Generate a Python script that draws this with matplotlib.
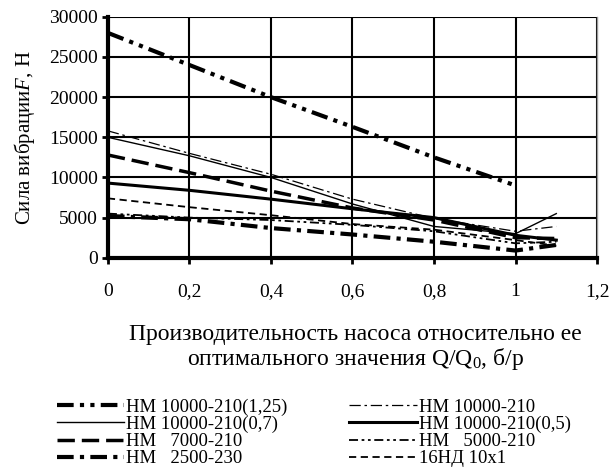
import matplotlib
matplotlib.use("Agg")
import matplotlib.pyplot as plt

plt.rcParams['font.family'] = ['Liberation Serif', 'DejaVu Serif']
plt.rcParams['mathtext.fontset'] = 'custom'
plt.rcParams['mathtext.rm'] = 'Liberation Serif'
plt.rcParams['mathtext.it'] = 'Liberation Serif:italic'

# relative flow Q/Q0
x_full = [0, 0.2, 0.4, 0.6, 0.8, 1.0, 1.1]
x_short = [0, 0.2, 0.4, 0.6, 0.8, 1.0]

# vibration force, N
f_10000_125 = [28000, 24000, 20000, 16300, 12500, 9000]
f_10000_07 = [15000, 12700, 10000, 6700, 3900, 3000, 5500]
f_7000 = [12800, 10600, 8300, 6200, 4700, 2500, 2400]
f_2500 = [5200, 4800, 3700, 2900, 2000, 900, 1600]
f_10000 = [15800, 13000, 10400, 7300, 4900, 3300, 3900]
f_10000_05 = [9300, 8400, 7300, 6100, 5000, 2800, 2200]
f_5000 = [5500, 5000, 4700, 4100, 3300, 1800, 2000]
f_16nd = [7400, 6300, 5300, 4200, 3500, 2200, 1500]

labels = ['НМ 10000-210(1,25)', 'НМ 10000-210(0,7)', 'НМ   7000-210', 'НМ   2500-230',
          'НМ 10000-210', 'НМ 10000-210(0,5)', 'НМ   5000-210', '16НД 10х1']

xticks = [0, 0.2, 0.4, 0.6, 0.8, 1.0, 1.2]
xtick_labels = ['0', '0,2', '0,4', '0,6', '0,8', '1', '1,2']
yticks = [0, 5000, 10000, 15000, 20000, 25000, 30000]

fig = plt.figure(figsize=(6.13, 4.67), dpi=100)
ax = fig.add_axes([0.176, 0.448, 0.798, 0.516])

ax.plot(x_short, f_10000_125, color='k', lw=3, ls=(0, (4, 1.5, 1, 1.5, 1, 1.5)), label=labels[0])
ax.plot(x_full, f_10000_07, color='k', lw=1.0, ls='-', label=labels[1])
ax.plot(x_full, f_7000, color='k', lw=2.5, ls=(0, (5, 2)), label=labels[2])
ax.plot(x_full, f_2500, color='k', lw=3, ls=(0, (4, 1.5, 1, 1.5)), label=labels[3])
ax.plot(x_full, f_10000, color='k', lw=0.9, ls=(0, (9, 3, 2, 3)), label=labels[4])
ax.plot(x_full, f_10000_05, color='k', lw=2.2, ls='-', label=labels[5])
ax.plot(x_full, f_5000, color='k', lw=1.3, ls=(0, (5, 2, 1.5, 2, 1.5, 2)), label=labels[6])
ax.plot(x_full, f_16nd, color='k', lw=1.3, ls=(0, (4, 2.5)), label=labels[7])

ax.set_xlim(0, 1.2)
ax.set_ylim(0, 30000)
ax.set_xticks(xticks)
ax.set_xticklabels(xtick_labels)
ax.set_yticks(yticks)
ax.tick_params(labelsize=14, direction='out', length=4, width=2, pad=14)
ax.tick_params(axis='y', pad=3)
ax.grid(True, color='k', lw=1.5)
ax.set_axisbelow(True)
ax.spines['left'].set_linewidth(3)
ax.spines['bottom'].set_linewidth(3)
ax.spines['top'].set_visible(False)
ax.spines['right'].set_color('0.6')
ax.spines['right'].set_linewidth(1)

ax.set_ylabel('Сила вибрации$\\it{F}$, Н', fontsize=15, labelpad=9)
fig.text(0.58, 0.255, 'Производительность насоса относительно ее\nоптимального значения Q/Q$_0$, б/р',
         ha='center', va='center', fontsize=17, linespacing=1.05)

handles, labs = ax.get_legend_handles_labels()
fig.legend(handles, labs, ncol=2, loc='center', bbox_to_anchor=(0.512, 0.073),
           frameon=False, fontsize=13.5, handlelength=3.6, handletextpad=0.1,
           labelspacing=0.0, columnspacing=3.3, borderpad=0)

fig.savefig('out.png', dpi=100)
